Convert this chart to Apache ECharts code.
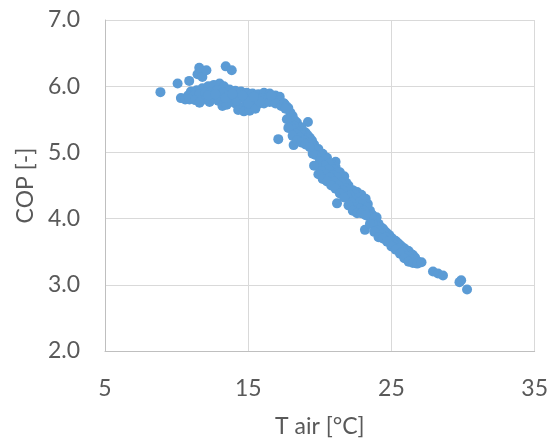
<!DOCTYPE html>
<html>
<head>
<meta charset="utf-8">
<script src="https://cdn.jsdelivr.net/npm/echarts@6/dist/echarts.min.js"></script>
<style>html,body{margin:0;padding:0;background:#fff}#c{width:551px;height:443px}</style>
</head>
<body>
<div id="c"></div>
<script>
// T air [°C] values
const tAir = [
  // isolated / scattered points
  8.87, 10.07, 10.88, 10.3, 10.6, 11.46, 11.58, 11.8, 12.08, 13.43, 13.85, 17.1, 19.17, 18.17, 21.2, 21.1, 23.96, 23.15,
  // flat cluster, top row
  11.0, 11.4, 11.8, 12.2, 12.6, 13.0, 13.3, 13.7, 14.1, 14.5, 14.9, 15.3, 15.7, 16.1, 16.5, 16.9, 17.2,
  // flat cluster, middle row
  10.8, 11.2, 11.6, 12.0, 12.4, 12.8, 13.2, 13.6, 14.0, 14.4, 14.8, 15.2, 15.6, 16.0, 16.4, 16.8, 17.2, 17.5,
  // flat cluster, lower row
  10.9, 11.3, 11.7, 12.1, 12.5, 12.9, 13.3, 13.7, 14.1, 14.5, 14.9, 15.3, 15.7, 16.1, 16.5, 16.9, 17.3,
  // flat cluster, bottom / fill
  13.2, 13.5, 14.3, 14.7, 15.1, 15.5, 11.6, 12.3, 12.2, 12.7, 13.4, 14.2, 15.0, 15.8, 16.6, 13.9, 14.6, 15.4,
  // descent, top edge
  17.5, 17.8, 18.1, 18.4, 18.7, 19.0, 19.3, 19.6, 19.9, 20.2, 20.5, 20.8, 21.1, 21.4, 21.7, 22.0, 22.3, 22.6, 22.9, 23.2,
  23.5, 23.8, 24.1, 24.4, 24.7, 25.0, 25.3, 25.6, 25.9, 26.2, 26.5, 26.8,
  // descent, upper fill
  17.65, 17.95, 18.25, 18.55, 18.85, 19.15, 19.45, 19.75, 20.05, 20.35, 20.65, 20.95, 21.25, 21.55, 21.85, 22.15, 22.45,
  22.75, 23.05, 23.35, 23.65, 23.95, 24.25, 24.55, 24.85, 25.15, 25.45, 25.75, 26.05, 26.35, 26.65,
  // descent, middle
  17.6, 17.9, 18.2, 18.5, 18.8, 19.1, 19.4, 19.7, 20.0, 20.3, 20.6, 20.9, 21.2, 21.5, 21.8, 22.1, 22.4, 22.7, 23.0, 23.3,
  23.6, 23.9, 24.2, 24.5, 24.8, 25.1, 25.4, 25.7, 26.0, 26.3, 26.6,
  // descent, lower fill
  17.7, 18.0, 18.3, 18.6, 18.9, 19.2, 19.5, 19.8, 20.1, 20.4, 20.7, 21.0, 21.3, 21.6, 21.9, 22.2, 22.5, 22.8, 23.1, 23.4,
  23.7, 24.0, 24.3, 24.6, 24.9, 25.2, 25.5, 25.8, 26.1, 26.4, 26.7,
  // descent, bottom edge
  17.8, 18.1, 18.4, 18.7, 19.0, 19.3, 19.6, 19.9, 20.2, 20.5, 20.8, 21.1, 21.4, 21.7, 22.0, 22.3, 22.6, 22.9, 23.2,
  23.5, 23.8, 24.1, 24.4, 24.7, 25.0, 25.3, 25.6, 25.9, 26.2, 26.5, 26.8,
  // tail
  27.1, 27.9, 28.25, 28.6, 29.87, 29.75, 30.28
];
// COP [-] values
const cop = [
  5.91, 6.04, 6.08, 5.82, 5.80, 6.18, 6.28, 6.14, 6.24, 6.30, 6.24, 5.20, 5.46, 5.11, 4.23, 4.86, 4.02, 3.83,
  5.92, 5.94, 5.97, 6.00, 6.02, 6.04, 6.00, 5.95, 5.93, 5.92, 5.90, 5.89, 5.88, 5.90, 5.89, 5.86, 5.84,
  5.86, 5.86, 5.88, 5.90, 5.92, 5.93, 5.90, 5.86, 5.84, 5.82, 5.80, 5.80, 5.81, 5.82, 5.82, 5.80, 5.78, 5.74,
  5.80, 5.79, 5.78, 5.82, 5.84, 5.78, 5.74, 5.76, 5.74, 5.68, 5.66, 5.70, 5.73, 5.74, 5.76, 5.74, 5.70,
  5.70, 5.72, 5.64, 5.62, 5.63, 5.66, 5.75, 5.76, 5.86, 5.88, 5.82, 5.78, 5.74, 5.77, 5.86, 5.88, 5.86, 5.84,
  5.74, 5.67, 5.55, 5.45, 5.38, 5.30, 5.22, 5.12, 5.05, 4.98, 4.92, 4.83, 4.78, 4.70, 4.64, 4.50, 4.43, 4.40, 4.36, 4.30,
  4.12, 4.00, 3.92, 3.85, 3.78, 3.71, 3.66, 3.60, 3.55, 3.51, 3.45, 3.36,
  5.70, 5.60, 5.48, 5.38, 5.32, 5.26, 5.18, 5.04, 4.95, 4.89, 4.83, 4.74, 4.70, 4.62, 4.54, 4.43, 4.36,
  4.32, 4.29, 4.22, 4.06, 3.95, 3.87, 3.81, 3.75, 3.68, 3.63, 3.57, 3.52, 3.47, 3.41,
  5.66, 5.52, 5.40, 5.31, 5.26, 5.21, 5.15, 4.96, 4.86, 4.80, 4.74, 4.66, 4.62, 4.54, 4.46, 4.35, 4.27, 4.24, 4.22, 4.17,
  4.02, 3.90, 3.82, 3.77, 3.72, 3.65, 3.60, 3.54, 3.48, 3.43, 3.39,
  5.50, 5.38, 5.28, 5.22, 5.18, 5.14, 4.98, 4.80, 4.72, 4.67, 4.62, 4.56, 4.50, 4.43, 4.33, 4.24, 4.17, 4.15, 4.12, 4.04,
  3.92, 3.82, 3.76, 3.72, 3.66, 3.60, 3.55, 3.49, 3.43, 3.38, 3.35,
  5.37, 5.25, 5.18, 5.15, 5.12, 5.08, 4.80, 4.67, 4.60, 4.56, 4.50, 4.45, 4.38, 4.32, 4.20, 4.12, 4.08, 4.08, 4.05,
  3.92, 3.80, 3.72, 3.70, 3.65, 3.58, 3.53, 3.47, 3.40, 3.35, 3.33, 3.32,
  3.34, 3.20, 3.17, 3.14, 3.07, 3.04, 2.93
];

const points = tAir.map((t, i) => [t, cop[i]]);
const textColor = '#595959';
const fontFam = 'Lato, "Open Sans", sans-serif';

const chart = echarts.init(document.getElementById('c'), null, {renderer: 'canvas'});
chart.setOption({
  animation: false,
  grid: {left: 105, right: 15, top: 20, bottom: 88, containLabel: false},
  xAxis: {
    type: 'value', min: 5, max: 35, interval: 10,
    name: 'T air [°C]', nameLocation: 'middle', nameGap: 64,
    nameTextStyle: {color: textColor, fontSize: 23, fontFamily: fontFam},
    axisLine: {show: true, lineStyle: {color: '#bfbfbf', width: 1}},
    axisTick: {show: false},
    axisLabel: {color: textColor, fontSize: 23, fontFamily: fontFam, margin: 26},
    splitLine: {show: true, lineStyle: {color: '#d9d9d9', width: 1}}
  },
  yAxis: {
    type: 'value', min: 2, max: 7, interval: 1,
    name: 'COP [-]', nameLocation: 'middle', nameGap: 67,
    nameTextStyle: {color: textColor, fontSize: 23, fontFamily: fontFam},
    axisLine: {show: true, lineStyle: {color: '#bfbfbf', width: 1}},
    axisTick: {show: false},
    axisLabel: {color: textColor, fontSize: 23, fontFamily: fontFam, margin: 25,
      formatter: v => v.toFixed(1)},
    splitLine: {show: true, lineStyle: {color: '#d9d9d9', width: 1}}
  },
  series: [{
    type: 'scatter',
    data: points,
    symbol: 'circle',
    symbolSize: 10,
    itemStyle: {color: '#5b9bd5', opacity: 1}
  }]
});
</script>
</body>
</html>
